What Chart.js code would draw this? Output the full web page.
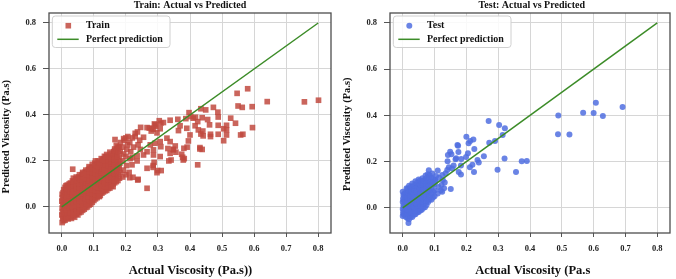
<!DOCTYPE html>
<html><head><meta charset="utf-8">
<script src="https://cdn.jsdelivr.net/npm/chart.js@4.4.1/dist/chart.umd.min.js"></script>
<style>html,body{margin:0;padding:0;background:#fff;overflow:hidden}
#wrap{display:flex;width:676px;height:279px}
canvas{display:block}</style></head><body>
<div id="wrap"><canvas id="c1" width="336" height="279"></canvas><canvas id="c2" width="340" height="279"></canvas></div>
<script>
const xTicks = [0, 0.1, 0.2, 0.3, 0.4, 0.5, 0.6, 0.7, 0.8];
const yTicks = [0, 0.2, 0.4, 0.6, 0.8];
const perfectLine = [0, 0.8];

const trainPoints = [
[0.001,-0.068],[0.003,-0.05],[0.000,-0.035],[0.002,-0.02],[0.001,-0.005],[0.003,0.01],[0.000,0.025],[0.002,0.04],[0.001,0.055],[0.004,0.062],[0.005,-0.06],[0.006,0.075],[0.004,-0.042],[0.006,-0.012],[0.005,0.018],[0.007,0.045],
[0.01,-0.058],[0.011,-0.04],[0.009,-0.022],[0.012,-0.005],[0.01,0.012],[0.011,0.03],[0.009,0.048],[0.012,0.066],[0.01,0.085],[0.013,0.092],
[0.02,-0.052],[0.021,-0.035],[0.019,-0.018],[0.022,0.0],[0.02,0.018],[0.021,0.036],[0.019,0.054],[0.022,0.072],[0.02,0.09],[0.023,0.1],
[0.03,-0.05],[0.031,-0.03],[0.029,-0.012],[0.032,0.006],[0.03,0.024],[0.031,0.042],[0.029,0.06],[0.032,0.078],[0.03,0.096],[0.033,0.113],[0.034,0.164],
[0.04,-0.045],[0.041,-0.025],[0.039,-0.006],[0.042,0.012],[0.04,0.03],[0.041,0.05],[0.039,0.068],[0.042,0.086],[0.04,0.104],[0.043,0.122],[0.045,0.13],
[0.05,-0.035],[0.051,-0.015],[0.049,0.004],[0.052,0.022],[0.05,0.04],[0.051,0.058],[0.049,0.076],[0.052,0.094],[0.05,0.112],[0.053,0.13],[0.055,0.14],
[0.06,-0.022],[0.061,-0.004],[0.059,0.014],[0.062,0.032],[0.06,0.05],[0.061,0.068],[0.059,0.086],[0.062,0.104],[0.06,0.122],[0.063,0.14],[0.065,0.15],
[0.07,-0.01],[0.071,0.008],[0.069,0.026],[0.072,0.044],[0.07,0.062],[0.071,0.08],[0.069,0.098],[0.072,0.116],[0.07,0.134],[0.073,0.152],[0.075,0.16],
[0.08,0.0],[0.081,0.018],[0.079,0.036],[0.082,0.054],[0.08,0.072],[0.081,0.09],[0.079,0.108],[0.082,0.126],[0.08,0.144],[0.083,0.162],[0.085,0.175],
[0.09,0.012],[0.091,0.03],[0.089,0.048],[0.092,0.066],[0.09,0.084],[0.091,0.102],[0.089,0.12],[0.092,0.138],[0.09,0.156],[0.093,0.172],[0.095,0.185],
[0.1,0.028],[0.101,0.046],[0.099,0.064],[0.102,0.082],[0.1,0.1],[0.101,0.118],[0.099,0.136],[0.102,0.154],[0.1,0.172],[0.103,0.19],[0.105,0.2],
[0.11,0.04],[0.111,0.058],[0.109,0.076],[0.112,0.094],[0.11,0.112],[0.111,0.13],[0.109,0.148],[0.112,0.166],[0.11,0.184],[0.113,0.2],
[0.12,0.05],[0.121,0.068],[0.119,0.086],[0.122,0.104],[0.12,0.122],[0.121,0.14],[0.119,0.158],[0.122,0.176],[0.12,0.194],[0.123,0.21],
[0.13,0.065],[0.131,0.083],[0.129,0.101],[0.132,0.119],[0.13,0.137],[0.131,0.155],[0.129,0.173],[0.132,0.191],[0.13,0.209],[0.133,0.22],
[0.14,0.072],[0.141,0.09],[0.139,0.11],[0.142,0.13],[0.14,0.15],[0.141,0.17],[0.139,0.19],[0.142,0.21],[0.14,0.228],
[0.15,0.082],[0.151,0.1],[0.149,0.12],[0.152,0.14],[0.15,0.16],[0.151,0.18],[0.149,0.2],[0.152,0.22],[0.15,0.238],
[0.16,0.1],[0.161,0.12],[0.159,0.14],[0.162,0.16],[0.16,0.18],[0.161,0.2],[0.159,0.22],[0.162,0.24],[0.165,0.252],
[0.17,0.11],[0.171,0.13],[0.169,0.15],[0.172,0.17],[0.17,0.19],[0.171,0.21],[0.169,0.23],[0.172,0.25],[0.17,0.268],
[0.18,0.125],[0.182,0.15],[0.179,0.17],[0.181,0.19],[0.18,0.215],[0.182,0.24],[0.179,0.26],[0.183,0.28],
[0.19,0.13],[0.192,0.16],[0.19,0.2],[0.193,0.23],[0.19,0.26],[0.195,0.29],[0.2,0.14],[0.202,0.18],[0.2,0.22],[0.203,0.25],[0.2,0.3],[0.205,0.27],
[0.005,-0.03],[0.006,0.0],[0.004,0.03],[0.015,-0.05],[0.016,-0.03],[0.014,-0.012],[0.016,0.007],[0.015,0.025],[0.014,0.043],[0.016,0.06],[0.015,0.078],[0.017,0.095],
[0.025,-0.045],[0.026,-0.025],[0.024,-0.005],[0.026,0.013],[0.025,0.031],[0.024,0.05],[0.026,0.068],[0.025,0.086],[0.027,0.104],
[0.035,-0.04],[0.036,-0.02],[0.034,0.0],[0.036,0.018],[0.035,0.036],[0.034,0.055],[0.036,0.073],[0.035,0.091],[0.037,0.11],[0.036,0.125],
[0.045,-0.032],[0.046,-0.014],[0.044,0.004],[0.046,0.022],[0.045,0.041],[0.044,0.06],[0.046,0.078],[0.045,0.096],[0.047,0.115],
[0.055,-0.025],[0.056,-0.008],[0.054,0.01],[0.056,0.028],[0.055,0.047],[0.054,0.065],[0.056,0.083],[0.055,0.101],[0.057,0.12],
[0.065,-0.015],[0.066,0.003],[0.064,0.021],[0.066,0.04],[0.065,0.058],[0.064,0.076],[0.066,0.094],[0.065,0.112],[0.067,0.13],[0.066,0.145],
[0.075,-0.003],[0.076,0.016],[0.074,0.034],[0.076,0.052],[0.075,0.07],[0.074,0.088],[0.076,0.106],[0.075,0.124],[0.077,0.142],
[0.085,0.008],[0.086,0.026],[0.084,0.044],[0.086,0.062],[0.085,0.08],[0.084,0.098],[0.086,0.116],[0.085,0.134],[0.087,0.152],[0.086,0.168],
[0.095,0.02],[0.096,0.04],[0.094,0.058],[0.096,0.076],[0.095,0.094],[0.094,0.112],[0.096,0.13],[0.095,0.148],[0.097,0.166],
[0.105,0.035],[0.106,0.054],[0.104,0.072],[0.106,0.09],[0.105,0.108],[0.104,0.126],[0.106,0.144],[0.105,0.162],[0.107,0.18],
[0.115,0.048],[0.116,0.066],[0.114,0.084],[0.116,0.102],[0.115,0.12],[0.114,0.138],[0.116,0.156],[0.115,0.174],[0.117,0.192],
[0.125,0.06],[0.126,0.078],[0.124,0.096],[0.126,0.114],[0.125,0.132],[0.124,0.15],[0.126,0.168],[0.125,0.186],[0.127,0.204],
[0.135,0.07],[0.136,0.09],[0.134,0.108],[0.136,0.126],[0.135,0.145],[0.134,0.163],[0.136,0.182],[0.135,0.2],[0.137,0.218],
[0.145,0.08],[0.146,0.1],[0.144,0.12],[0.146,0.14],[0.145,0.16],[0.144,0.18],[0.146,0.2],[0.145,0.22],
[0.155,0.09],[0.156,0.11],[0.154,0.13],[0.156,0.15],[0.155,0.17],[0.154,0.19],[0.156,0.21],[0.155,0.23],
[0.165,0.105],[0.166,0.125],[0.164,0.145],[0.166,0.165],[0.165,0.185],[0.164,0.205],[0.166,0.225],[0.165,0.245],
[0.175,0.115],[0.176,0.14],[0.174,0.16],[0.176,0.18],[0.175,0.2],[0.174,0.22],[0.176,0.24],[0.175,0.26],
[0.21,0.15],[0.213,0.21],[0.215,0.24],[0.212,0.28],[0.22,0.3],[0.219,0.183],[0.22,0.215],[0.224,0.26],[0.229,0.306],[0.235,0.2],[0.235,0.222],[0.238,0.27],[0.243,0.29],[0.245,0.25],
[0.117,0.045],[0.16,0.088],[0.212,0.127],[0.222,0.129],[0.237,0.117],[0.238,0.12],[0.266,0.081],
[0.166,0.293],[0.193,0.297],[0.206,0.306],[0.229,0.32],[0.236,0.326],[0.246,0.346],[0.273,0.343],[0.289,0.361],[0.304,0.375],
[0.255,0.303],[0.255,0.226],[0.266,0.345],[0.266,0.24],[0.266,0.168],[0.279,0.33],[0.276,0.27],[0.286,0.338],[0.286,0.248],[0.286,0.226],[0.285,0.172],[0.291,0.357],[0.291,0.277],[0.299,0.158],[0.297,0.149],[0.307,0.284],[0.309,0.262],[0.31,0.158],
[0.288,0.194],[0.285,0.18],[0.307,0.219],[0.338,0.233],[0.377,0.216],[0.382,0.21],[0.348,0.251],[0.334,0.2],[0.354,0.265],[0.297,0.322],[0.307,0.34],[0.309,0.364],[0.293,0.351],[0.281,0.34],
[0.317,0.367],[0.328,0.299],[0.331,0.254],[0.338,0.377],[0.338,0.284],[0.341,0.204],[0.348,0.248],[0.356,0.238],[0.362,0.381],[0.364,0.332],[0.369,0.353],[0.374,0.229],[0.379,0.204],[0.381,0.255],[0.387,0.384],[0.39,0.342],[0.391,0.26],[0.395,0.287],[0.397,0.41],[0.4,0.313],[0.402,0.393],[0.41,0.386],[0.416,0.353],[0.417,0.39],[0.424,0.371],[0.424,0.183],[0.426,0.335],[0.431,0.258],[0.431,0.252],[0.434,0.427],[0.434,0.317],[0.438,0.388],[0.438,0.25],[0.44,0.33],[0.441,0.309],[0.449,0.422],[0.455,0.38],[0.461,0.357],[0.464,0.316],[0.464,0.306],[0.473,0.433],[0.487,0.412],[0.488,0.391],[0.488,0.355],[0.488,0.316],[0.505,0.288],[0.505,0.34],[0.514,0.355],[0.514,0.335],[0.514,0.313],[0.527,0.386],[0.542,0.364],[0.547,0.494],[0.55,0.439],[0.558,0.313],[0.563,0.433],[0.565,0.316],[0.58,0.514],[0.594,0.436],[0.595,0.345],[0.641,0.458],[0.757,0.457],[0.801,0.464]
];

const testPoints = [
[0,-0.035],[0.001,-0.02],[0,-0.005],[0.002,0.01],[0,0.025],[0.001,0.04],[0.002,0.055],[0,0.07],[0.003,-0.028],[0.004,0.0],[0.003,0.032],[0.005,0.06],
[0.01,-0.04],[0.011,-0.022],[0.009,-0.006],[0.012,0.012],[0.01,0.03],[0.011,0.048],[0.009,0.066],[0.012,0.085],
[0.02,-0.05],[0.021,-0.03],[0.019,-0.012],[0.022,0.006],[0.02,0.024],[0.021,0.042],[0.019,0.06],[0.022,0.078],[0.02,0.095],[0.018,-0.066],
[0.03,-0.04],[0.031,-0.02],[0.029,0.0],[0.032,0.018],[0.03,0.036],[0.031,0.054],[0.029,0.072],[0.032,0.09],[0.03,0.105],
[0.04,-0.028],[0.041,-0.01],[0.039,0.008],[0.042,0.026],[0.04,0.044],[0.041,0.062],[0.039,0.08],[0.042,0.098],[0.04,0.115],
[0.05,-0.018],[0.051,0.0],[0.049,0.018],[0.052,0.036],[0.05,0.054],[0.051,0.072],[0.049,0.09],[0.052,0.108],[0.05,0.122],
[0.06,-0.008],[0.061,0.012],[0.059,0.032],[0.062,0.052],[0.06,0.072],[0.061,0.092],[0.059,0.11],[0.062,0.128],
[0.07,0.002],[0.071,0.022],[0.069,0.042],[0.072,0.062],[0.07,0.082],[0.071,0.102],[0.069,0.12],[0.072,0.14],
[0.08,0.025],[0.081,0.045],[0.079,0.065],[0.082,0.085],[0.08,0.105],[0.081,0.125],[0.079,0.145],[0.082,0.162],[0.083,0.035],
[0.09,0.035],[0.091,0.06],[0.089,0.085],[0.092,0.11],[0.09,0.13],[0.093,0.148],
[0.1,0.05],[0.101,0.075],[0.099,0.1],[0.102,0.12],[0.103,0.114],[0.105,0.138],
[0.005,-0.03],[0.006,-0.012],[0.005,0.008],[0.006,0.028],[0.005,0.047],[0.015,-0.045],[0.016,-0.026],[0.014,-0.008],[0.016,0.01],[0.015,0.028],[0.014,0.046],[0.016,0.064],[0.015,0.082],
[0.025,-0.04],[0.026,-0.02],[0.024,0.0],[0.026,0.018],[0.025,0.036],[0.024,0.054],[0.026,0.072],[0.025,0.09],
[0.035,-0.03],[0.036,-0.012],[0.034,0.006],[0.036,0.024],[0.035,0.042],[0.034,0.06],[0.036,0.078],[0.035,0.098],
[0.045,-0.02],[0.046,-0.002],[0.044,0.016],[0.046,0.034],[0.045,0.052],[0.044,0.07],[0.046,0.09],[0.045,0.108],
[0.055,-0.012],[0.056,0.008],[0.054,0.026],[0.056,0.044],[0.055,0.062],[0.054,0.082],[0.056,0.1],[0.055,0.118],
[0.065,0.0],[0.066,0.02],[0.064,0.04],[0.066,0.06],[0.065,0.08],[0.064,0.1],[0.066,0.118],
[0.075,0.012],[0.076,0.032],[0.074,0.052],[0.076,0.072],[0.075,0.092],[0.074,0.112],[0.076,0.13],
[0.085,0.05],[0.086,0.075],[0.084,0.095],[0.086,0.115],[0.085,0.14],[0.095,0.045],[0.096,0.07],[0.094,0.1],[0.096,0.125],
[0.11,0.062],[0.112,0.09],[0.11,0.161],[0.114,0.13],[0.12,0.075],[0.122,0.099],[0.124,0.142],[0.124,0.07],[0.126,0.12],[0.13,0.085],[0.132,0.11],[0.135,0.15],
[0.14,0.164],[0.141,0.202],[0.142,0.229],[0.145,0.175],[0.149,0.243],[0.151,0.081],[0.153,0.232],[0.155,0.17],[0.16,0.183],[0.166,0.21],[0.168,0.215],[0.172,0.272],[0.174,0.269],[0.175,0.242],[0.176,0.155],[0.183,0.183],[0.183,0.144],[0.184,0.211],
[0.199,0.22],[0.2,0.308],[0.205,0.236],[0.207,0.279],[0.211,0.176],[0.212,0.289],[0.219,0.186],[0.222,0.296],[0.224,0.155],[0.225,0.255],[0.235,0.207],[0.239,0.196],[0.255,0.223],
[0.27,0.376],[0.272,0.282],[0.29,0.289],[0.298,0.165],[0.303,0.358],[0.314,0.315],[0.32,0.213],[0.321,0.344],[0.356,0.155],[0.374,0.202],[0.39,0.203],
[0.488,0.318],[0.489,0.399],[0.524,0.317],[0.567,0.411],[0.6,0.41],[0.607,0.455],[0.629,0.397],[0.691,0.436]
];

const SERIF = "'Liberation Serif', 'Times New Roman', serif";
const GREEN = '#3c8c28';

const decoPlugin = {
  id: 'deco',
  afterDatasetsDraw(chart, args, o) {
    const ctx = chart.ctx, a = chart.chartArea;
    ctx.save();
    ctx.font = 'bold 10px ' + SERIF;
    const tw = ctx.measureText('Perfect prediction').width;
    const bx = a.left + 3.3, by = a.top + 3, bw = 37 + tw + 4, bh = 31.5;
    ctx.beginPath();
    ctx.roundRect(bx, by, bw, bh, 3);
    ctx.fillStyle = 'rgba(255,255,255,0.85)';
    ctx.fill();
    ctx.strokeStyle = '#d0d0d0';
    ctx.lineWidth = 1;
    ctx.stroke();
    const ds = chart.data.datasets[0];
    ctx.fillStyle = ds.backgroundColor;
    const my = a.top + 12.7, ly = a.top + 26.3;
    if (o.marker === 'rect') {
      ctx.fillRect(a.left + 19.3 - 2.8, my - 2.8, 5.6, 5.6);
    } else {
      ctx.beginPath(); ctx.arc(a.left + 19.3, my, 3, 0, Math.PI * 2); ctx.fill();
    }
    ctx.strokeStyle = GREEN; ctx.lineWidth = 1.5;
    ctx.beginPath(); ctx.moveTo(a.left + 8.3, ly); ctx.lineTo(a.left + 29.7, ly); ctx.stroke();
    ctx.fillStyle = '#111';
    ctx.textBaseline = 'middle'; ctx.textAlign = 'left';
    ctx.fillText(o.label, a.left + 37, my);
    ctx.fillText('Perfect prediction', a.left + 37, ly);
    ctx.strokeStyle = '#4d4d4d'; ctx.lineWidth = 1.3;
    ctx.strokeRect(a.left, a.top, a.right - a.left, a.bottom - a.top);
    ctx.fillStyle = '#111';
    ctx.textAlign = 'center';
    ctx.font = 'bold 10px ' + SERIF;
    ctx.fillText(o.title, o.titleX, 5.5);
    ctx.font = 'bold 12.5px ' + SERIF;
    ctx.fillText(o.xTitle, o.xTitleX, 271);
    ctx.translate(o.yTitleX, o.yTitleY);
    ctx.rotate(-Math.PI / 2);
    ctx.font = 'bold 10.5px ' + SERIF;
    ctx.fillText(o.yTitle, 0, 0);
    ctx.restore();
  }
};

function makeChart(id, cfg) {
  const tickFont = { family: SERIF, size: 8.5, weight: 'bold' };
  return new Chart(document.getElementById(id), {
    data: {
      datasets: [
        { type: 'scatter', label: cfg.label, data: cfg.points.map(p => ({ x: p[0], y: p[1] })),
          backgroundColor: cfg.color, borderWidth: 0, pointStyle: cfg.marker,
          pointRadius: cfg.radius, pointHoverRadius: cfg.radius, order: 2 },
        { type: 'line', label: 'Perfect prediction',
          data: perfectLine.map(v => ({ x: v, y: v })),
          borderColor: GREEN, borderWidth: 1.5, pointRadius: 0, fill: false, order: 1 }
      ]
    },
    options: {
      responsive: false, animation: false, devicePixelRatio: 1,
      layout: { padding: { left: 0, right: cfg.padRight, top: 13, bottom: 0 } },
      plugins: {
        legend: { display: false }, tooltip: { enabled: false },
        deco: { label: cfg.label, marker: cfg.marker, title: cfg.title, titleX: cfg.titleX,
          xTitle: cfg.xTitle, xTitleX: cfg.xTitleX, yTitle: 'Predicted Viscosity (Pa.s)',
          yTitleX: cfg.yTitleX, yTitleY: cfg.yTitleY }
      },
      scales: {
        x: { type: 'linear', min: -0.04, max: 0.84,
          afterBuildTicks: s => { s.ticks = xTicks.map(v => ({ value: v })); },
          afterFit: s => { s.height = 46; },
          ticks: { callback: v => Number(v).toFixed(1), font: tickFont, color: '#222', padding: 7, maxRotation: 0, autoSkip: false },
          grid: { color: '#d6d6d6', lineWidth: 1, tickColor: '#555', tickLength: 4, tickWidth: 1 },
          border: { display: false } },
        y: { type: 'linear', min: cfg.yMin, max: cfg.yMax,
          afterBuildTicks: s => { s.ticks = yTicks.map(v => ({ value: v })); },
          afterFit: s => { s.width = cfg.yWidth; },
          ticks: { callback: v => Number(v).toFixed(1), font: tickFont, color: '#222', padding: 7, autoSkip: false },
          grid: { color: '#d6d6d6', lineWidth: 1, tickColor: '#555', tickLength: 6, tickWidth: 1 },
          border: { display: false } }
      }
    },
    plugins: [decoPlugin]
  });
}

makeChart('c1', { label: 'Train', points: trainPoints, color: 'rgba(193,74,64,0.85)', marker: 'rect', radius: 4,
  title: 'Train: Actual vs Predicted', titleX: 190, xTitle: 'Actual Viscosity (Pa.s))', xTitleX: 190.5,
  yTitleX: 6.5, yTitleY: 136.7, yMin: -0.1135, yMax: 0.8435, yWidth: 49, padRight: 5 });
makeChart('c2', { label: 'Test', points: testPoints, color: 'rgba(80,110,225,0.85)', marker: 'circle', radius: 3,
  title: 'Test: Actual vs Predicted', titleX: 195.8, xTitle: 'Actual Viscosity (Pa.s', xTitleX: 196.7,
  yTitleX: 11.7, yTitleY: 134.2, yMin: -0.109, yMax: 0.843, yWidth: 54, padRight: 6 });
</script></body></html>
